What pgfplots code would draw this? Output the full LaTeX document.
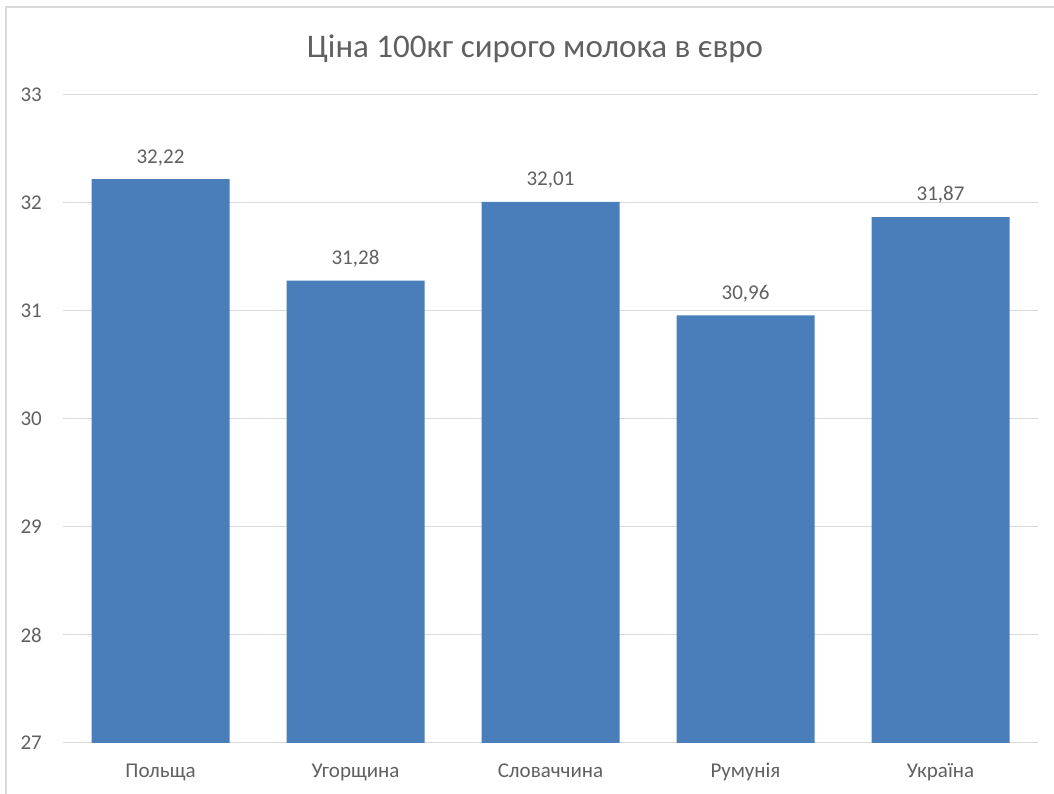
\documentclass[border=0pt]{standalone}
\usepackage{fontspec}
\setmainfont{Carlito}
\usepackage{pgfplots}
\pgfplotsset{compat=1.18}

\definecolor{barblue}{HTML}{4A7EBB}
\definecolor{txtgray}{HTML}{606060}
\definecolor{gridgray}{HTML}{D9D9D9}

\begin{document}
\begin{tikzpicture}[x=1bp,y=1bp]
\useasboundingbox (0,0) rectangle (1054,794);
\draw[gridgray, line width=1.5bp] (6,0) -- (6,787) -- (1054,787);
\node[txtgray, font=\fontsize{33bp}{38bp}\selectfont, anchor=base] at (535,736) {Ціна 100кг сирого молока в євро};
\begin{axis}[
at={(63bp,51bp)}, anchor=south west,
scale only axis,
width=975bp, height=648bp,
ybar,
bar width=138bp,
ymin=27, ymax=33,
ytick={27,28,...,33},
xmin=-0.5, xmax=4.5,
xtick={0,1,2,3,4},
xticklabels={Польща,Угорщина,Словаччина,Румунія,Україна},
axis line style={draw=none},
major tick length=0pt,
ymajorgrids,
grid style={gridgray, line width=1bp},
/pgf/number format/assume math mode=true,
tick label style={txtgray, font=\fontsize{21bp}{24bp}\selectfont},
y tick label style={anchor=east, inner sep=0pt, xshift=-21bp},
x tick label style={anchor=base, inner sep=0pt, yshift=-35bp},
nodes near coords,
nodes near coords style={txtgray, font=\fontsize{21bp}{24bp}\selectfont, anchor=south, yshift=10bp,
  /pgf/number format/.cd, fixed, fixed zerofill, precision=2, use comma, assume math mode=true},
]
\addplot[fill=barblue, draw=none] coordinates {(0,32.22) (1,31.28) (2,32.01) (3,30.96) (4,31.87)};
\end{axis}
\end{tikzpicture}
\end{document}
